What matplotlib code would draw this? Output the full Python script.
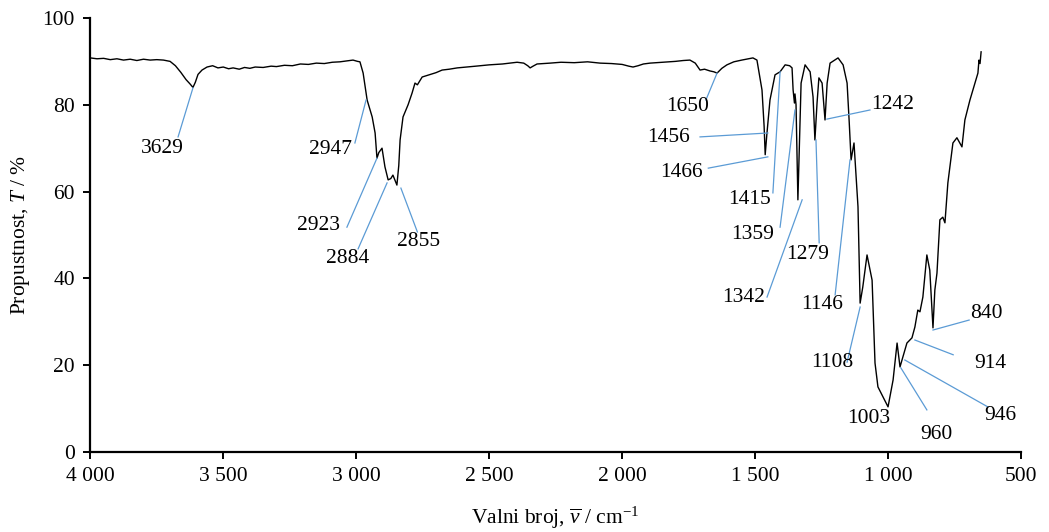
# IR spectrum with labelled bands
import matplotlib
matplotlib.use("Agg")
from matplotlib import pyplot as plt
from matplotlib.ticker import FuncFormatter
import numpy as np

plt.rcParams['font.family'] = ['Liberation Serif', 'DejaVu Serif']
plt.rcParams['mathtext.fontset'] = 'custom'
plt.rcParams['mathtext.rm'] = 'Liberation Serif'
plt.rcParams['mathtext.it'] = 'Liberation Serif:italic'

# spectrum: wavenumber (cm-1) and transmittance (%)
wavenumber = [4000, 3975, 3950, 3925, 3900, 3875, 3850, 3825, 3800, 3775, 3750, 3725,
              3700, 3680, 3660, 3640, 3625, 3614, 3605, 3595, 3580, 3561, 3540, 3520,
              3500, 3480, 3463, 3440, 3420, 3400, 3380, 3350, 3320, 3300, 3270, 3240,
              3210, 3180, 3150, 3120, 3090, 3061, 3035, 3012, 2995, 2986, 2974, 2959,
              2940, 2929, 2922, 2915, 2903, 2892, 2880, 2870, 2862, 2847, 2840, 2835,
              2824, 2805, 2790, 2779, 2770, 2752, 2726, 2700, 2677, 2650, 2620, 2583,
              2550, 2500, 2450, 2395, 2370, 2355, 2346, 2335, 2320, 2271, 2230, 2180,
              2130, 2083, 2040, 2000, 1975, 1959, 1940, 1920, 1895, 1850, 1800, 1770,
              1745, 1725, 1707, 1690, 1670, 1655, 1643, 1625, 1606, 1580, 1550, 1525,
              1508, 1493, 1474, 1466, 1462, 1456, 1444, 1425, 1406, 1387, 1370, 1361,
              1357, 1352, 1350, 1346, 1339, 1327, 1312, 1293, 1282, 1275, 1267, 1260,
              1248, 1237, 1229, 1218, 1188, 1169, 1154, 1146, 1139, 1128, 1113, 1105,
              1095, 1079, 1060, 1049, 1038, 1019, 1000, 981, 966, 955, 944, 929,
              910, 899, 888, 880, 869, 854, 843, 831, 824, 816, 805, 794,
              786, 775, 756, 741, 722, 711, 692, 673, 662, 658, 654, 650]
transmittance = [90.8, 90.6, 90.7, 90.4, 90.6, 90.3, 90.5, 90.2, 90.5, 90.3, 90.4, 90.3,
                 90.0, 89.0, 87.5, 85.8, 84.8, 84.0, 85.2, 87.0, 88.0, 88.7, 89.0, 88.5,
                 88.7, 88.3, 88.5, 88.2, 88.6, 88.4, 88.7, 88.6, 88.9, 88.8, 89.1, 89.0,
                 89.4, 89.3, 89.6, 89.5, 89.8, 89.9, 90.1, 90.3, 90.0, 89.9, 87.3, 81.1,
                 77.2, 73.5, 67.7, 69.0, 70.0, 65.7, 62.7, 63.0, 63.8, 61.5, 66.0, 71.9,
                 77.2, 80.0, 82.7, 85.0, 84.6, 86.4, 86.9, 87.4, 88.0, 88.2, 88.5, 88.7,
                 88.9, 89.2, 89.4, 89.8, 89.6, 89.0, 88.5, 88.9, 89.4, 89.6, 89.8, 89.7,
                 89.9, 89.6, 89.5, 89.3, 88.9, 88.7, 89.0, 89.4, 89.6, 89.8, 90.0, 90.2,
                 90.3, 89.6, 88.0, 88.2, 87.8, 87.6, 87.3, 88.4, 89.2, 89.9, 90.3, 90.6,
                 90.8, 90.3, 83.4, 75.0, 68.5, 73.0, 81.1, 86.9, 87.6, 89.2, 89.0, 88.5,
                 83.4, 80.4, 82.5, 80.0, 58.1, 85.0, 89.2, 87.6, 81.8, 71.9, 80.4, 86.2,
                 85.0, 76.5, 85.0, 89.6, 90.8, 89.2, 85.0, 76.0, 67.3, 71.2, 56.5, 34.3,
                 38.0, 45.4, 39.6, 20.5, 15.0, 12.7, 10.4, 16.6, 25.1, 19.6, 21.9, 25.1,
                 26.3, 28.8, 32.7, 32.3, 35.7, 45.4, 41.9, 28.6, 37.3, 41.2, 53.5, 54.1,
                 52.8, 62.0, 71.2, 72.4, 70.3, 76.5, 81.1, 85.0, 87.3, 90.3, 89.5, 92.2]

# band labels and where they sit (text centre, leader line start, leader line end)
band_labels = ['3629', '2947', '2923', '2884', '2855', '1650', '1456', '1466', '1415',
               '1359', '1342', '1279', '1242', '1146', '1108', '1003', '960', '946',
               '914', '840']
text_pos = [(3730, 70.0), (3098, 69.6), (3143, 52.3), (3034, 44.5), (2764, 48.4),
            (1752, 79.5), (1827, 72.4), (1775, 64.3), (1522, 58.1), (1511, 50.0),
            (1545, 35.5), (1301, 45.6), (981, 80.0), (1249, 33.9), (1211, 20.7),
            (1071, 7.8), (820, 4.0), (579, 8.5), (616, 20.5), (631, 31.8)]
line_from = [(3670, 72.6), (3005, 71.2), (3035, 51.8), (2993, 46.8), (2770, 50.7),
             (1685, 81.1), (1707, 72.6), (1676, 65.4), (1433, 59.7), (1406, 51.8),
             (1455, 35.7), (1259, 48.2), (1068, 78.8), (1199, 36.2), (1154, 20.7),
             None, (854, 9.7), (625, 10.4), (755, 22.4), (695, 30.4)]
line_to = [(3614, 83.9), (2963, 81.1), (2922, 67.7), (2884, 62.0), (2832, 60.8),
           (1643, 87.3), (1452, 73.5), (1452, 68.0), (1406, 87.6), (1350, 78.8),
           (1323, 58.1), (1271, 71.9), (1230, 76.7), (1143, 67.3), (1105, 33.4),
           None, (952, 19.4), (937, 21.2), (899, 25.8), (831, 28.1)]

fig = plt.figure(figsize=(10.49, 5.32), dpi=100)
ax = fig.add_axes([0.0861, 0.1504, 0.8872, 0.8158])

ax.plot(wavenumber, transmittance, color='black', lw=1.0)

# leader lines + labels
for lab, tp, a, b in zip(band_labels, text_pos, line_from, line_to):
    if a is not None:
        ax.plot([a[0], b[0]], [a[1], b[1]], color='#5B9BD5', lw=0.9)
    ax.text(tp[0], tp[1], lab, ha='center', va='center', fontsize=15.5)

ax.set_xlim(4000, 500)
ax.set_ylim(0, 100)
ax.set_xticks(np.arange(4000, 499, -500))
ax.set_yticks(np.arange(0, 101, 20))
ax.xaxis.set_major_formatter(FuncFormatter(lambda x, p: f"{int(x):,}".replace(",", " ")))

for s in ['top', 'right']:
    ax.spines[s].set_visible(False)
for s in ['left', 'bottom']:
    ax.spines[s].set_linewidth(1.6)
ax.tick_params(axis='both', direction='out', length=5, width=1.4, labelsize=15.5, pad=6)

ax.set_xlabel(r"Valni broj, $\overline{v}$ / cm$^{-1}$", fontsize=15.5, labelpad=13)
ax.set_ylabel(r"Propustnost, $T$ / %", fontsize=15.5, labelpad=8)

fig.savefig("out.png", dpi=100)
